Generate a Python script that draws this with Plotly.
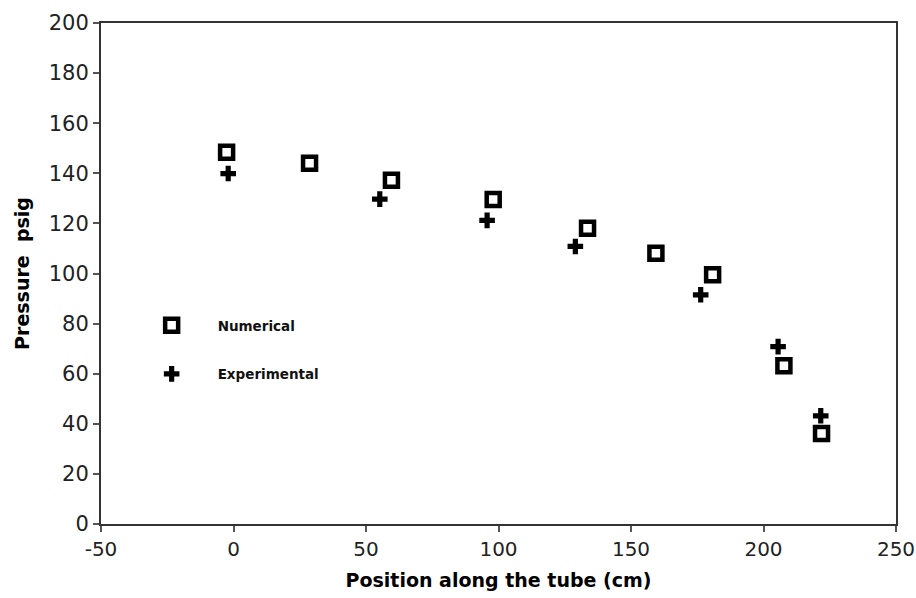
import plotly.graph_objects as go

# Numerical (square markers)
num_x = [-2.6, 28.7, 59.6, 98.0, 133.6, 159.4, 180.8, 207.7, 221.9]
num_y = [148.4, 144.0, 137.2, 129.5, 118.1, 108.1, 99.5, 63.2, 36.1]

# Experimental (cross markers)
exp_x = [-2.0, 55.2, 95.7, 129.0, 176.3, 205.5, 221.6]
exp_y = [139.9, 129.7, 121.2, 110.8, 91.5, 70.8, 43.2]

x_ticks = [-50, 0, 50, 100, 150, 200, 250]
y_ticks = [0, 20, 40, 60, 80, 100, 120, 140, 160, 180, 200]

fig = go.Figure()
fig.add_trace(go.Scatter(
    x=num_x, y=num_y, mode="markers", name="Numerical", legendgroup="a",
    marker=dict(symbol="square-open", size=13, color="black",
                line=dict(width=4.5, color="black")),
))
fig.add_trace(go.Scatter(
    x=exp_x, y=exp_y, mode="markers", name="Experimental", legendgroup="b",
    marker=dict(symbol="cross", size=13, color="black", line=dict(width=0)),
))

y_font = dict(family="DejaVu Sans", size=21, color="#222222")
x_font = dict(family="DejaVu Sans", size=20, color="#222222")
fig.update_layout(
    width=916, height=598,
    margin=dict(l=101, r=20, t=23, b=74),
    paper_bgcolor="white", plot_bgcolor="white",
    showlegend=True,
    legend=dict(
        x=0.031, y=0.427, xanchor="left", yanchor="top",
        bgcolor="rgba(0,0,0,0)", borderwidth=0,
        font=dict(family="DejaVu Sans", size=13.5, color="#111111", weight="bold"),
        tracegroupgap=28, traceorder="grouped", itemwidth=82,
    ),
    xaxis=dict(
        range=[-50, 250], tickmode="array", tickvals=x_ticks,
        ticktext=[str(v) for v in x_ticks],
        showgrid=False, zeroline=False, automargin=False,
        showline=True, linecolor="#333333", linewidth=2, mirror=True,
        ticks="outside", ticklen=6, tickwidth=1.5, tickcolor="#555555",
        tickfont=x_font,
        title=dict(text="<b>Position along the tube (cm)</b>",
                   font=dict(family="DejaVu Sans", size=19, color="black"),
                   standoff=14),
    ),
    yaxis=dict(
        range=[0, 200], tickmode="array", tickvals=y_ticks,
        ticktext=[str(v) for v in y_ticks],
        showgrid=False, zeroline=False, automargin=False,
        showline=True, linecolor="#333333", linewidth=2, mirror=True,
        ticks="outside", ticklen=6, tickwidth=1.5, tickcolor="#555555",
        tickfont=y_font,
        title=dict(text="<b>Pressure  psig</b>",
                   font=dict(family="DejaVu Sans", size=19, color="black"),
                   standoff=14),
    ),
)

fig.write_html("out.html")
